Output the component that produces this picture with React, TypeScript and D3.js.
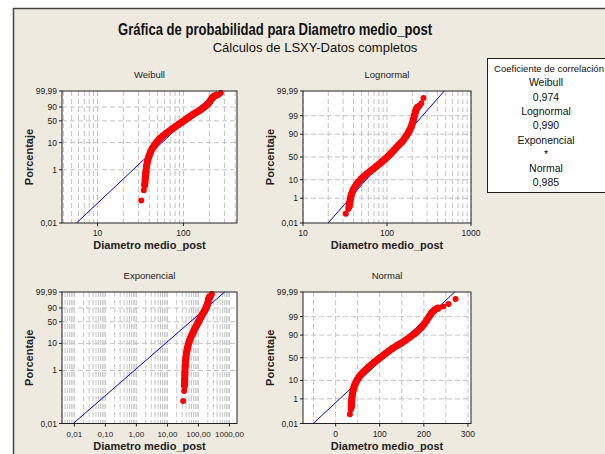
import * as d3 from 'd3';

const bandPct = [0.27, 0.45, 0.8, 1.4, 2.2, 3.2, 4.5, 6, 8, 10.5, 13.5, 17, 21, 25, 30, 35, 40, 45, 50, 55, 60, 65, 70, 75, 80, 84, 88, 91, 93.5, 95.5, 97, 98.2, 99, 99.45, 99.65, 99.75];
const bandDiam = [35.4, 35.9, 36.5, 37.3, 38.4, 39.7, 41.3, 43.2, 45.8, 49, 52.8, 57.5, 63, 68.5, 75, 81.5, 88, 94.5, 101, 107.5, 114, 121, 129, 138, 150, 159, 169, 178, 186, 194, 200, 206, 212, 218, 224, 232];
// isolated observations at both tails
const lonePct = [0.07, 0.17, 99.81, 99.88, 99.955];
const loneDiam = [32.3, 34.6, 244, 256, 272];

const panelNames = ['Weibull', 'Lognormal', 'Exponencial', 'Normal'];
const correlations = ['0,974', '0,990', '*', '0,985'];
// fitted line: diameter at 0,01 % and at 99,99 %
const fitLow = [5.69, 19.9, 0.0092, -51];
const fitHigh = [244, 480, 700, 270];
const xDomains: [number, number][] = [[3.86, 420], [10, 1000], [0.004, 1750], [-74, 307]];
const xTicks = [[10, 100], [10, 100, 1000], [0.01, 0.1, 1, 10, 100, 1000], [0, 100, 200, 300]];
const xTickLabels = [['10', '100'], ['10', '100', '1000'], ['0,01', '0,10', '1,00', '10,00', '100,00', '1000,00'], ['0', '100', '200', '300']];
const normalGrid = [-50, 0, 50, 100, 150, 200, 250, 300];
const extremeTicks = [0.01, 1, 10, 50, 90, 99.99];
const extremeLabels = ['0,01', '1', '10', '50', '90', '99,99'];
const normalTicks = [0.01, 1, 10, 50, 90, 99, 99.99];
const normalLabels = ['0,01', '1', '10', '50', '90', '99', '99,99'];

const W = 605;
const H = 454;
const FONT = "'Liberation Sans', Arial, sans-serif";
// plot boxes [left, right, top, bottom]
const boxes = [
  [62, 237, 91, 223],
  [303, 471, 91, 223],
  [62, 237, 292, 423.5],
  [303, 471, 292, 423.5],
];

function invNorm(p: number): number {
  const a = [-39.69683028665376, 220.9460984245205, -275.9285104469687, 138.357751867269, -30.66479806614716, 2.506628277459239];
  const b = [-54.47609879822406, 161.5858368580409, -155.6989798598866, 66.80131188771972, -13.28068155288572];
  const c = [-0.007784894002430293, -0.3223964580411365, -2.400758277161838, -2.549732539343734, 4.374664141464968, 2.938163982698783];
  const d = [0.007784695709041462, 0.3224671290700398, 2.445134137142996, 3.754408661907416];
  const lo = 0.02425;
  const tail = (q: number) =>
    (((((c[0] * q + c[1]) * q + c[2]) * q + c[3]) * q + c[4]) * q + c[5]) /
    ((((d[0] * q + d[1]) * q + d[2]) * q + d[3]) * q + 1);
  if (p < lo) return tail(Math.sqrt(-2 * Math.log(p)));
  if (p > 1 - lo) return -tail(Math.sqrt(-2 * Math.log(1 - p)));
  const q = p - 0.5;
  const r = q * q;
  return ((((((a[0] * r + a[1]) * r + a[2]) * r + a[3]) * r + a[4]) * r + a[5]) * q) /
    (((((b[0] * r + b[1]) * r + b[2]) * r + b[3]) * r + b[4]) * r + 1);
}
const sev = (p: number) => Math.log(-Math.log(1 - p));

function Panel({ i }: { i: number }) {
  const [x0, x1, y0, y1] = boxes[i];
  const logX = i !== 3;
  const x = logX
    ? d3.scaleLog().domain(xDomains[i]).range([x0, x1])
    : d3.scaleLinear().domain(xDomains[i]).range([x0, x1]);
  const tf = i === 0 || i === 2 ? sev : invNorm;
  const y = d3.scaleLinear().domain([tf(0.0001), tf(0.9999)]).range([y1, y0]);
  const yp = (pct: number) => y(tf(pct / 100));
  const yTicks = i === 0 || i === 2 ? extremeTicks : normalTicks;
  const yLabels = i === 0 || i === 2 ? extremeLabels : normalLabels;
  const vGrid = logX ? x.ticks() : normalGrid;
  const cx = (x0 + x1) / 2;
  const cy = (y0 + y1) / 2;

  const band = d3.line<number>()
    .x((_, k) => x(bandDiam[k]))
    .y((p) => yp(p));

  return (
    <g>
      <text x={cx} y={y0 - 13} textAnchor="middle" fontSize={9.5} fill="#222">{panelNames[i]}</text>
      <rect x={x0} y={y0} width={x1 - x0} height={y1 - y0} fill="#fff" />
      <g stroke="#c4c4c4" strokeDasharray="5,3" strokeWidth={1}>
        {vGrid.map((v) => (
          <line key={'v' + v} x1={x(v)} x2={x(v)} y1={y0} y2={y1} />
        ))}
        {yTicks.slice(1, -1).map((t) => (
          <line key={'h' + t} x1={x0} x2={x1} y1={yp(t)} y2={yp(t)} />
        ))}
      </g>
      <line
        x1={x(fitLow[i])} y1={yp(0.01)} x2={x(fitHigh[i])} y2={yp(99.99)}
        stroke="#0000ff" strokeWidth={1}
      />
      <path d={band(bandPct) ?? ''} fill="none" stroke="#ff0000" strokeWidth={7} strokeLinecap="round" strokeLinejoin="round" />
      <g fill="#ff0000">
        {bandPct.map((p, k) => (
          <circle key={'b' + k} cx={x(bandDiam[k])} cy={yp(p)} r={3.4} />
        ))}
        {lonePct.map((p, k) => (
          <circle key={'l' + k} cx={x(loneDiam[k])} cy={yp(p)} r={3} />
        ))}
      </g>
      <rect x={x0} y={y0} width={x1 - x0} height={y1 - y0} fill="none" stroke="#222" strokeWidth={1} />
      <g stroke="#222">
        {yTicks.map((t) => (
          <line key={'yt' + t} x1={x0 - 3} x2={x0} y1={yp(t)} y2={yp(t)} />
        ))}
        {xTicks[i].map((t) => (
          <line key={'xt' + t} x1={x(t)} x2={x(t)} y1={y1} y2={y1 + 3} />
        ))}
      </g>
      <g fontSize={8.5} fill="#222">
        {yTicks.map((t, k) => (
          <text key={'yl' + t} x={x0 - 5} y={yp(t) + 3} textAnchor="end">{yLabels[k]}</text>
        ))}
        {xTicks[i].map((t, k) => (
          <text key={'xl' + t} x={x(t)} y={y1 + 13} textAnchor="middle" fontSize={i === 2 ? 8 : 8.5}>{xTickLabels[i][k]}</text>
        ))}
      </g>
      <text x={cx} y={y1 + 26} textAnchor="middle" fontSize={11} fontWeight="bold" fill="#222">Diametro medio_post</text>
      <text
        transform={`translate(${x0 - 29},${cy}) rotate(-90)`}
        textAnchor="middle" fontSize={11} fontWeight="bold" fill="#222"
      >Porcentaje</text>
    </g>
  );
}

export default function App() {
  const legendLines = ['Coeficiente de correlación'];
  panelNames.forEach((n, k) => legendLines.push(n, correlations[k]));
  return (
    <svg width={W} height={H} style={{ position: 'absolute', left: 0, top: 0 }} fontFamily={FONT}>
      <rect x={0} y={0} width={W} height={H} fill="#fff" />
      <rect x={13.5} y={8.5} width={640} height={480} fill="#eeeae0" stroke="#444" strokeWidth={1.5} />
      <text x={275} y={35} textAnchor="middle" fontSize={17} fontWeight="bold" fill="#111"
        textLength={314} lengthAdjust="spacingAndGlyphs">Gráfica de probabilidad para Diametro medio_post</text>
      <text x={315} y={52} textAnchor="middle" fontSize={13} fill="#111">Cálculos de LSXY-Datos completos</text>
      {panelNames.map((_, i) => (
        <Panel key={i} i={i} />
      ))}
      <rect x={487.5} y={58.5} width={140} height={134} fill="#fff" stroke="#222" strokeWidth={1} />
      <g fontSize={10.5} fill="#111" textAnchor="middle">
        {legendLines.map((s, k) => (
          <text key={k} x={k === 0 ? 549 : 546} y={72 + k * 14.3} fontSize={k === 0 ? 9.5 : 10.5}>{s}</text>
        ))}
      </g>
    </svg>
  );
}
